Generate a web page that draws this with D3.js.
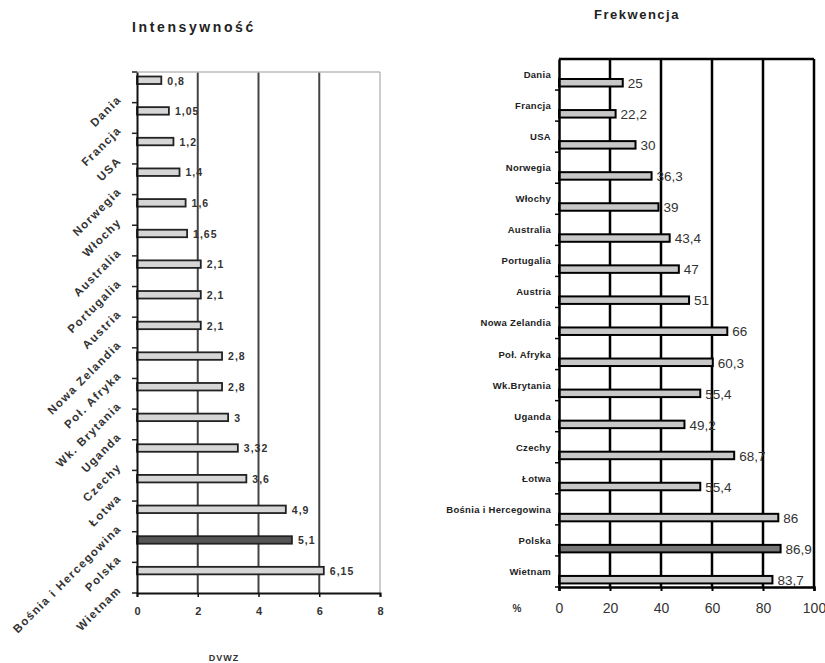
<!DOCTYPE html>
<html lang="pl">
<head>
  <meta charset="UTF-8">
  <script src="https://d3js.org/d3.v7.min.js"></script>
  <style>
    body { margin: 0; background: #fff; }
    text { font-family: "Liberation Sans", Arial, sans-serif; }
  </style>
</head>
<body>
<div id="my_dataviz"></div>
<script>
// dane
var countries = ["Dania", "Francja", "USA", "Norwegia", "Włochy", "Australia", "Portugalia", "Austria",
  "Nowa Zelandia", "Poł. Afryka", "Wk. Brytania", "Uganda", "Czechy", "Łotwa",
  "Bośnia i Hercegowina", "Polska", "Wietnam"];
var countriesRight = ["Dania", "Francja", "USA", "Norwegia", "Włochy", "Australia", "Portugalia", "Austria",
  "Nowa Zelandia", "Poł. Afryka", "Wk.Brytania", "Uganda", "Czechy", "Łotwa",
  "Bośnia i Hercegowina", "Polska", "Wietnam"];
var intensity = [0.8, 1.05, 1.2, 1.4, 1.6, 1.65, 2.1, 2.1, 2.1, 2.8, 2.8, 3, 3.32, 3.6, 4.9, 5.1, 6.15];
var turnout = [25, 22.2, 30, 36.3, 39, 43.4, 47, 51, 66, 60.3, 55.4, 49.2, 68.7, 55.4, 86, 86.9, 83.7];
var ticksLeft = [0, 2, 4, 6, 8];
var ticksRight = [0, 20, 40, 60, 80, 100];
var highlight = "Polska";

var fmt = function(v) { return String(v).replace(".", ","); };

var svg = d3.select("#my_dataviz")
  .append("svg")
  .attr("width", 825)
  .attr("height", 663);

// ---------- lewy wykres: Intensywność ----------
var xL = d3.scaleLinear().domain([0, 8]).range([137, 380]);
var yL = d3.scaleBand().domain(countries).range([72, 593]);

var left = svg.append("g");

left.append("text")
  .attr("x", 194).attr("y", 32)
  .attr("text-anchor", "middle")
  .style("font-size", "14px").style("font-weight", "bold")
  .style("letter-spacing", "2.6px").style("fill", "#222")
  .text("Intensywność");

// siatka
left.selectAll(".gridL")
  .data(ticksLeft.slice(1))
  .enter().append("line")
  .attr("x1", function(d) { return xL(d); })
  .attr("x2", function(d) { return xL(d); })
  .attr("y1", 72).attr("y2", 593)
  .style("stroke", function(d) { return d === 8 ? "#bbb" : "#444"; })
  .style("stroke-width", function(d) { return d === 8 ? 1.5 : 2; });

left.append("line")
  .attr("x1", xL(0)).attr("x2", xL(8))
  .attr("y1", 72).attr("y2", 72)
  .style("stroke", "#bbb").style("stroke-width", 1.5);

// słupki
left.selectAll(".barL")
  .data(intensity)
  .enter().append("rect")
  .attr("x", xL(0))
  .attr("y", function(d, i) { return yL(countries[i]) + 4.5; })
  .attr("width", function(d) { return xL(d) - xL(0); })
  .attr("height", 7.5)
  .style("fill", function(d, i) { return countries[i] === highlight ? "#555" : "#d6d6d6"; })
  .style("stroke", "#222")
  .style("stroke-width", 1.8);

left.selectAll(".valL")
  .data(intensity)
  .enter().append("text")
  .attr("x", function(d) { return xL(d) + 6; })
  .attr("y", function(d, i) { return yL(countries[i]) + 12.5; })
  .style("font-size", "10.5px").style("font-weight", "bold")
  .style("letter-spacing", "1px").style("fill", "#333")
  .text(function(d) { return fmt(d); });

// oś kategorii
var axL = left.append("g")
  .attr("transform", "translate(" + xL(0) + ",0)")
  .call(d3.axisLeft(yL).tickSize(0).tickFormat(""));
axL.select(".domain").style("stroke", "#111").style("stroke-width", 2);

var boundsL = countries.map(function(c) { return yL(c); }).concat([593]);
left.selectAll(".tickL")
  .data(boundsL)
  .enter().append("line")
  .attr("x1", xL(0) - 5).attr("x2", xL(0))
  .attr("y1", function(d) { return d; }).attr("y2", function(d) { return d; })
  .style("stroke", "#222").style("stroke-width", 1.5);

left.selectAll(".catL")
  .data(countries)
  .enter().append("text")
  .attr("text-anchor", "end")
  .attr("transform", function(d) {
    return "translate(122," + (yL(d) + yL.bandwidth() / 2 + 13) + ") rotate(-45)";
  })
  .style("font-size", "11.5px").style("font-weight", "bold")
  .style("letter-spacing", "1.4px").style("fill", "#333")
  .text(function(d) { return d; });

// oś wartości
var axBL = left.append("g")
  .attr("transform", "translate(0,593)")
  .call(d3.axisBottom(xL).tickValues(ticksLeft).tickSize(4).tickPadding(10));
axBL.select(".domain").style("stroke", "#111").style("stroke-width", 2);
axBL.selectAll(".tick line").style("stroke", "#111").style("stroke-width", 1.5);
axBL.selectAll("text")
  .style("font-size", "11px").style("font-weight", "bold")
  .style("font-family", "'Liberation Sans', Arial, sans-serif").style("fill", "#333");

left.append("text")
  .attr("x", 224).attr("y", 661)
  .attr("text-anchor", "middle")
  .style("font-size", "9px").style("font-weight", "bold")
  .style("letter-spacing", "1px").style("fill", "#333")
  .text("DVWZ");

// ---------- prawy wykres: Frekwencja ----------
var xR = d3.scaleLinear().domain([0, 100]).range([559, 814]);
var yR = d3.scaleBand().domain(countriesRight).range([59, 587]);

var right = svg.append("g");

right.append("text")
  .attr("x", 637).attr("y", 19)
  .attr("text-anchor", "middle")
  .style("font-size", "13px").style("font-weight", "bold")
  .style("letter-spacing", "1.5px").style("fill", "#222")
  .text("Frekwencja");

right.selectAll(".gridR")
  .data(ticksRight.slice(1))
  .enter().append("line")
  .attr("x1", function(d) { return xR(d); })
  .attr("x2", function(d) { return xR(d); })
  .attr("y1", 59).attr("y2", 587)
  .style("stroke", "#000").style("stroke-width", 2.5);

right.append("line")
  .attr("x1", xR(0)).attr("x2", xR(100))
  .attr("y1", 59).attr("y2", 59)
  .style("stroke", "#000").style("stroke-width", 2.5);

right.selectAll(".barR")
  .data(turnout)
  .enter().append("rect")
  .attr("x", xR(0))
  .attr("y", function(d, i) { return yR(countriesRight[i]) + 20; })
  .attr("width", function(d) { return xR(d) - xR(0); })
  .attr("height", 7.5)
  .style("fill", function(d, i) { return countriesRight[i] === highlight ? "#777" : "#c8c8c8"; })
  .style("stroke", "#000")
  .style("stroke-width", 2);

right.selectAll(".valR")
  .data(turnout)
  .enter().append("text")
  .attr("x", function(d) { return xR(d) + 5; })
  .attr("y", function(d, i) { return yR(countriesRight[i]) + 29; })
  .style("font-size", "13.5px").style("fill", "#333")
  .text(function(d) { return fmt(d); });

var axR = right.append("g")
  .attr("transform", "translate(" + xR(0) + ",0)")
  .call(d3.axisLeft(yR).tickSize(0).tickFormat(""));
axR.select(".domain").style("stroke", "#000").style("stroke-width", 2.5);

var boundsR = countriesRight.map(function(c) { return yR(c); }).slice(1).concat([587]);
right.selectAll(".tickR")
  .data(boundsR)
  .enter().append("line")
  .attr("x1", xR(0) - 4).attr("x2", xR(0))
  .attr("y1", function(d) { return d; }).attr("y2", function(d) { return d; })
  .style("stroke", "#000").style("stroke-width", 1.5);

right.selectAll(".catR")
  .data(countriesRight)
  .enter().append("text")
  .attr("x", 551)
  .attr("y", function(d) { return yR(d) + 19; })
  .attr("text-anchor", "end")
  .style("font-size", "9.5px").style("font-weight", "bold")
  .style("letter-spacing", "0.3px").style("fill", "#222")
  .text(function(d) { return d; });

var axBR = right.append("g")
  .attr("transform", "translate(0,587)")
  .call(d3.axisBottom(xR).tickValues(ticksRight).tickSize(4).tickPadding(12));
axBR.select(".domain").style("stroke", "#000").style("stroke-width", 2.5);
axBR.selectAll(".tick line").style("stroke", "#000").style("stroke-width", 2);
axBR.selectAll("text")
  .style("font-size", "14px")
  .style("font-family", "'Liberation Sans', Arial, sans-serif").style("fill", "#333");

right.append("text")
  .attr("x", 517).attr("y", 612)
  .attr("text-anchor", "middle")
  .style("font-size", "10px").style("font-weight", "bold").style("fill", "#333")
  .text("%");
</script>
</body>
</html>
